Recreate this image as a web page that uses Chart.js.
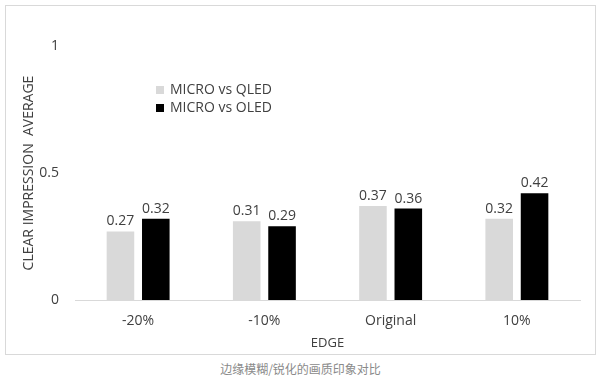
<!DOCTYPE html>
<html>
<head>
<meta charset="utf-8">
<script src="https://cdn.jsdelivr.net/npm/chart.js@4.4.1/dist/chart.umd.min.js"></script>
<style>
  html, body { margin: 0; padding: 0; background: #fff; }
  #frame { position: absolute; left: 5px; top: 5px; width: 589px; height: 348px; border: 1px solid #d9d9d9; }
  #wrap { position: absolute; left: 0; top: 0; width: 589px; height: 348px; }
  #caption { position: absolute; left: 0; top: 360px; width: 601px; text-align: center;
    font-family: "Noto Sans CJK SC", sans-serif; font-size: 12px; color: #8a8a8a; }
</style>
</head>
<body>
<div id="frame"><div id="wrap"><canvas id="c" width="589" height="348"></canvas></div></div>
<div id="caption">边缘模糊/锐化的画质印象对比</div>
<script>
const categories = ["-20%", "-10%", "Original", "10%"];
const seriesNames = ["MICRO vs QLED", "MICRO vs OLED"];
const qledValues = [0.27, 0.31, 0.37, 0.32];
const oledValues = [0.32, 0.29, 0.36, 0.42];
const yTicks = [0, 0.5, 1];

const FONT = '"Open Sans", sans-serif';
const TXT = '#404040';

const valueLabels = {
  id: 'valueLabels',
  afterDatasetsDraw(chart) {
    const ctx = chart.ctx;
    ctx.save();
    ctx.font = '14px ' + FONT;
    ctx.fillStyle = TXT;
    ctx.textAlign = 'center';
    ctx.textBaseline = 'bottom';
    chart.data.datasets.forEach((ds, i) => {
      chart.getDatasetMeta(i).data.forEach((bar, j) => {
        ctx.fillText(ds.data[j].toFixed(2), bar.x, bar.y - 3);
      });
    });
    ctx.restore();
  }
};

const innerLegend = {
  id: 'innerLegend',
  afterDraw(chart) {
    const ctx = chart.ctx;
    ctx.save();
    ctx.font = '14px ' + FONT;
    ctx.textBaseline = 'middle';
    ctx.textAlign = 'left';
    const x0 = 150, y0 = 84, dy = 18;
    chart.data.datasets.forEach((ds, i) => {
      const y = y0 + i * dy;
      ctx.fillStyle = ds.backgroundColor;
      ctx.fillRect(x0, y - 4, 8, 8);
      ctx.fillStyle = TXT;
      ctx.fillText(ds.label, x0 + 14, y);
    });
    ctx.restore();
  }
};

new Chart(document.getElementById('c'), {
  type: 'bar',
  data: {
    labels: categories,
    datasets: [
      { label: seriesNames[0], data: qledValues, backgroundColor: '#d9d9d9',
        categoryPercentage: 0.56, barPercentage: 0.78 },
      { label: seriesNames[1], data: oledValues, backgroundColor: '#000000',
        categoryPercentage: 0.56, barPercentage: 0.78 }
    ]
  },
  options: {
    responsive: false,
    animation: false,
    layout: { padding: { top: 40, right: 15, left: 0, bottom: 0 } },
    plugins: { legend: { display: false }, tooltip: { enabled: false } },
    scales: {
      x: {
        grid: { display: false, drawTicks: false },
        border: { display: true, color: '#d9d9d9', width: 1 },
        ticks: { color: TXT, font: { family: FONT, size: 14 }, padding: 13 },
        title: { display: true, text: 'EDGE', color: TXT, font: { family: FONT, size: 13 }, padding: { top: 0, bottom: 3 } },
        afterFit(s) { s.height = 54; }
      },
      y: {
        min: 0, max: 1,
        afterBuildTicks(s) { s.ticks = yTicks.map(v => ({ value: v })); },
        grid: { display: false, drawTicks: false },
        border: { display: false },
        ticks: { color: TXT, font: { family: FONT, size: 14 }, padding: 16,
          callback: v => String(v) },
        title: { display: true, text: 'CLEAR IMPRESSION  AVERAGE', color: TXT, font: { family: FONT, size: 14 }, padding: { top: 15, bottom: 0 } },
        afterFit(s) { s.width = 69; }
      }
    }
  },
  plugins: [valueLabels, innerLegend]
});
</script>
</body>
</html>
